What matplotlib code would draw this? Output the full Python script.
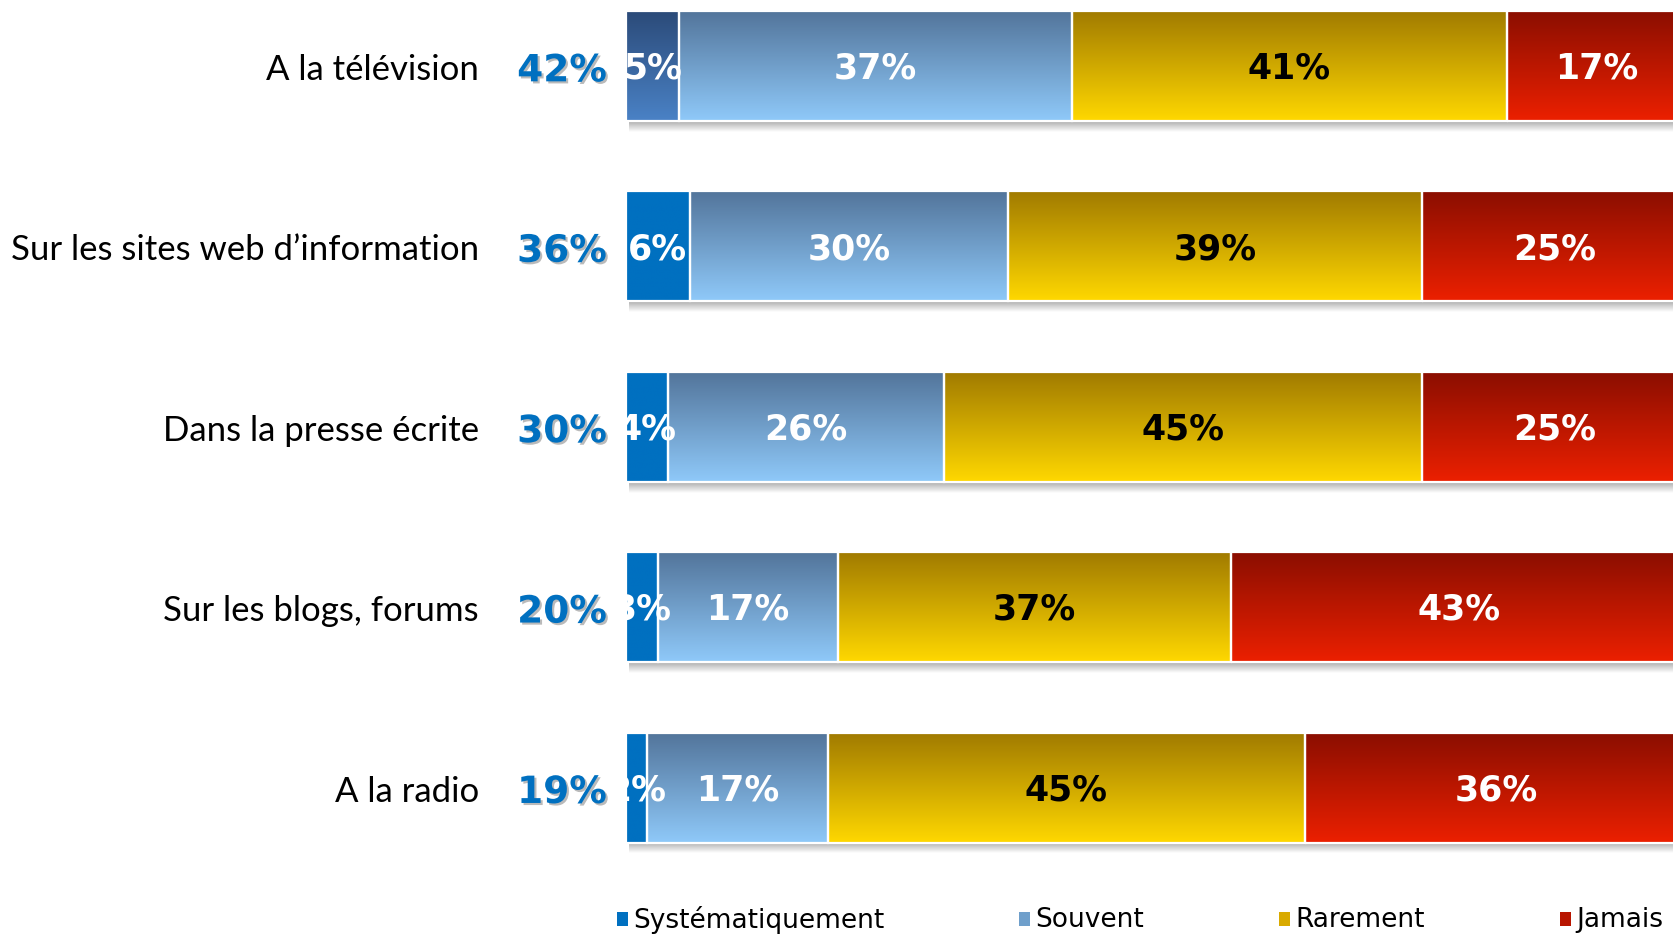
import matplotlib
matplotlib.use("Agg")
import matplotlib.pyplot as plt
import matplotlib.patheffects as pe
from matplotlib.colors import LinearSegmentedColormap
from matplotlib.patches import Rectangle
import numpy as np

categories = ["A la télévision", "Sur les sites web d’information", "Dans la presse écrite",
              "Sur les blogs, forums", "A la radio"]
series = ["Systématiquement", "Souvent", "Rarement", "Jamais"]
systematique = [5, 6, 4, 3, 2]
souvent = [37, 30, 26, 17, 17]
rarement = [41, 39, 45, 37, 45]
jamais = [17, 25, 25, 43, 36]

# (top colour, bottom colour) of each gradient
grad_colors = [("#0070C0", "#0070C0"), ("#52749A", "#8FC9F9"),
               ("#A07A00", "#FFD800"), ("#8A0E00", "#EC2000")]
tv_sys_colors = ("#2B4A78", "#4A82C6")
text_colors = ["white", "white", "black", "white"]
legend_colors = ["#0070C0", "#6F9FCB", "#D9AA00", "#B81500"]

W, H = 1673, 937
fig = plt.figure(figsize=(W / 100, H / 100), dpi=100)
ax = fig.add_axes([626 / W, 77 / H, 1061 / W, 860 / H])

data = np.array([systematique, souvent, rarement, jamais], dtype=float)
n = len(categories)
ypos = np.arange(n)[::-1]
h = 0.61
grad = np.linspace(0, 1, 256).reshape(-1, 1)

for i in range(n):
    y = ypos[i]
    left = 0.0
    # shadow under the bar
    shadow = np.zeros((64, 1, 4))
    shadow[..., :3] = 0.35
    shadow[:, 0, 3] = np.linspace(0.5, 0.0, 64)
    ax.imshow(shadow, extent=(0.3, 100, y - h / 2 - 0.06, y - h / 2), origin="upper",
              aspect="auto", interpolation="bilinear", zorder=1)
    for j in range(len(series)):
        w = data[j, i]
        top, bottom = grad_colors[j]
        if j == 0 and i == 0:
            top, bottom = tv_sys_colors
        cmap = LinearSegmentedColormap.from_list("g", [top, bottom])
        ax.imshow(grad, cmap=cmap, extent=(left, left + w, y - h / 2, y + h / 2),
                  origin="upper", aspect="auto", interpolation="bilinear", zorder=2)
        ax.barh(y, w, left=left, height=h, facecolor="none", edgecolor="white",
                linewidth=1.6, zorder=3)
        ax.text(left + w / 2, y - 0.01, f"{int(w)}%", ha="center", va="center",
                fontsize=25, fontweight="bold", color=text_colors[j],
                family="DejaVu Sans", clip_on=True, zorder=4)
        left += w
    total = systematique[i] + souvent[i]
    ax.text(-0.0603, y - 0.03, f"{total}%", transform=ax.get_yaxis_transform(),
            ha="center", va="center", fontsize=27, fontweight="bold", color="#0070C0",
            family="DejaVu Sans",
            path_effects=[pe.SimplePatchShadow(offset=(1.5, -1.5), shadow_rgbFace="#666666", alpha=0.45),
                          pe.Normal()])

ax.set_xlim(0, 100)
ax.set_ylim(-0.396, 4.371)
ax.set_yticks(ypos)
ax.set_yticklabels(categories, fontsize=25, family="Lato")
ax.tick_params(axis="y", length=0, pad=106)
ax.set_xticks([])
for s in ax.spines.values():
    s.set_visible(False)

# legend
leg_x = [617, 1019, 1279, 1560]
for k, name in enumerate(series):
    fig.add_artist(Rectangle(((leg_x[k]) / W, 1 - 927 / H), 11 / W, 14 / H,
                             transform=fig.transFigure, facecolor=legend_colors[k],
                             edgecolor="none"))
    fig.text((leg_x[k] + 16) / W, 1 - 920 / H, name, ha="left", va="center",
             fontsize=19, family="DejaVu Sans", color="black")

fig.savefig("out.png", dpi=100)
